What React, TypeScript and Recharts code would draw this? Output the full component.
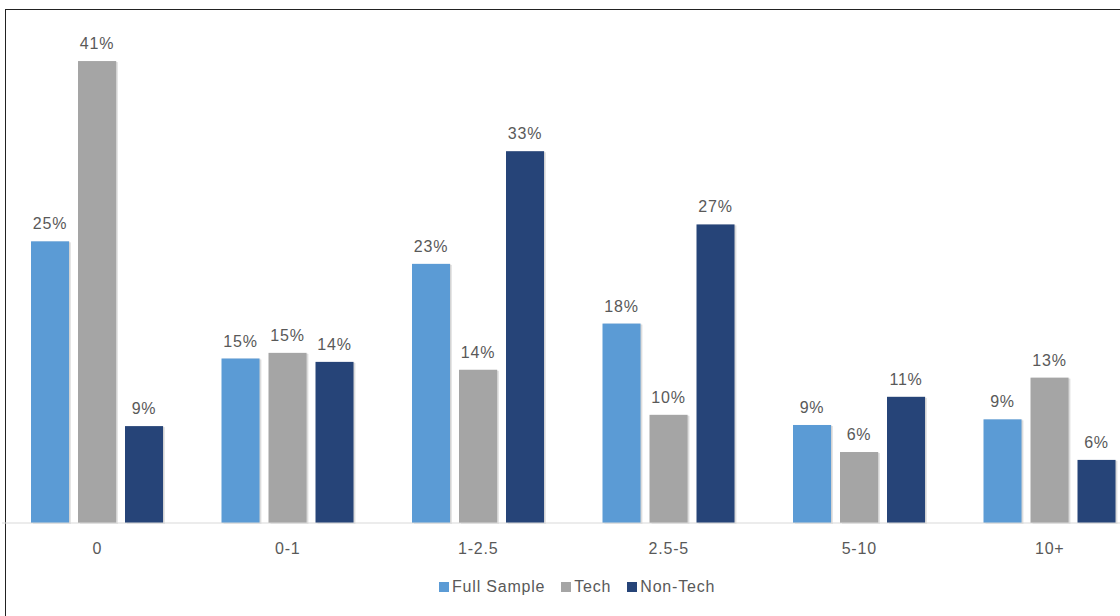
import React from "react";
import { BarChart, Bar, XAxis, YAxis, LabelList } from "recharts";

const categories = ["0", "0-1", "1-2.5", "2.5-5", "5-10", "10+"];
const fullSample = [25, 14.6, 23, 17.7, 8.7, 9.2];
const tech = [41, 15.1, 13.6, 9.6, 6.3, 12.9];
const nonTech = [8.6, 14.3, 33, 26.5, 11.2, 5.6];

const seriesNames = ["Full Sample", "Tech", "Non-Tech"];
const colors = ["#5B9BD5", "#A5A5A5", "#264478"];

const data = categories.map((c, i) => ({
  cat: c,
  full: fullSample[i],
  tech: tech[i],
  non: nonTech[i],
}));

const FONT = '"Liberation Sans", Arial, sans-serif';

const ShadowBar = (props: any) => {
  const { x, y, width, height, fill } = props;
  if (height <= 0) return null;
  return (
    <g>
      <rect x={x + 2} y={y + 1} width={width} height={height} fill="rgba(0,0,0,0.10)" />
      <rect x={x + 1} y={y} width={width} height={height} fill="rgba(0,0,0,0.08)" />
      <rect x={x} y={y} width={width} height={height} fill={fill} />
    </g>
  );
};

const fmt = (v: any) => `${Math.round(Number(v))}%`;

export default function App() {
  const keys = ["full", "tech", "non"];
  return (
    <div
      style={{
        position: "fixed",
        left: 0,
        top: 0,
        width: 1120,
        height: 616,
        overflow: "hidden",
        background: "#fff",
        fontFamily: FONT,
      }}
    >
      <div
        style={{
          position: "absolute",
          left: 5,
          top: 9,
          width: 1200,
          height: 700,
          borderLeft: "1.5px solid #222",
          borderTop: "1.5px solid #222",
        }}
      />
      <div style={{ position: "absolute", left: 0, top: 0 }}>
        <BarChart
          width={1160}
          height={616}
          data={data}
          margin={{ top: 16, right: 15, bottom: 0, left: 2 }}
          barCategoryGap={29}
          barGap={9}
        >
          <XAxis
            dataKey="cat"
            height={93}
            axisLine={{ stroke: "#D9D9D9" }}
            tickLine={false}
            tickMargin={14}
            tick={{ fill: "#595959", fontSize: 16, fontFamily: FONT, letterSpacing: 0.8 }}
          />
          <YAxis hide domain={[0, 45]} />
          {keys.map((k, i) => (
            <Bar
              key={k}
              dataKey={k}
              name={seriesNames[i]}
              fill={colors[i]}
              isAnimationActive={false}
              shape={<ShadowBar />}
            >
              <LabelList
                dataKey={k}
                position="top"
                offset={12}
                formatter={fmt}
                style={{ fill: "#595959", fontSize: 16, fontFamily: FONT, letterSpacing: 0.8 }}
              />
            </Bar>
          ))}
        </BarChart>
      </div>
      <div
        style={{
          position: "absolute",
          left: 439,
          top: 578,
          display: "flex",
          alignItems: "center",
          fontSize: 16,
          color: "#595959",
          letterSpacing: 0.8,
          height: 18,
        }}
      >
        {seriesNames.map((n, i) => (
          <div key={n} style={{ display: "flex", alignItems: "center", marginRight: 16 }}>
            <span
              style={{
                display: "inline-block",
                width: 10,
                height: 10,
                background: colors[i],
                marginRight: 3,
              }}
            />
            <span>{n}</span>
          </div>
        ))}
      </div>
    </div>
  );
}
